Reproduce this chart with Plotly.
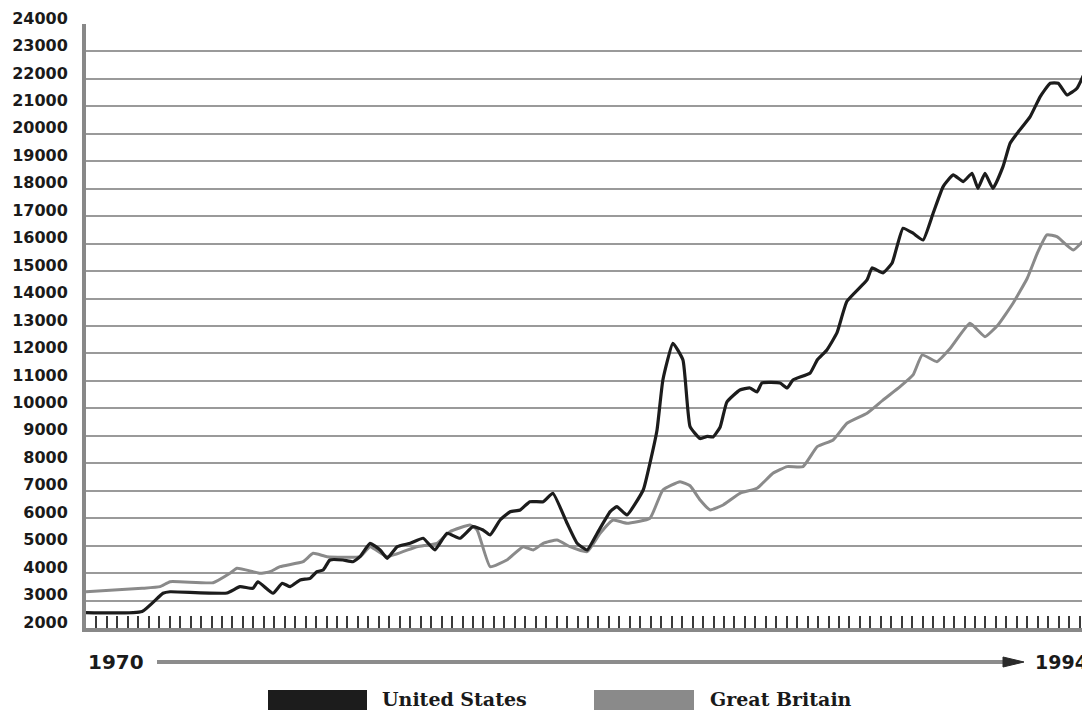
import plotly.graph_objects as go

# ---- data ----
us_years = [1970.0, 1971.34, 1971.84, 1972.01, 1973.37, 1973.68, 1973.99, 1974.11, 1974.47, 1974.69,
            1974.88, 1975.12, 1975.36, 1975.52, 1975.67, 1975.83, 1976.14, 1976.38, 1976.55, 1976.79,
            1977.03, 1977.20, 1977.44, 1977.75, 1978.06, 1978.34, 1978.63, 1978.94, 1979.25, 1979.49,
            1979.66, 1979.90, 1980.14, 1980.38, 1980.61, 1980.93, 1981.16, 1981.50, 1981.74, 1981.98,
            1982.22, 1982.53, 1982.69, 1982.93, 1983.32, 1983.48, 1983.65, 1983.79, 1984.03, 1984.27,
            1984.44, 1984.68, 1984.85, 1984.99, 1985.16, 1985.32, 1985.63, 1985.87, 1986.04, 1986.16,
            1986.59, 1986.76, 1986.90, 1987.31, 1987.48, 1987.71, 1987.95, 1988.19, 1988.67, 1988.79,
            1989.05, 1989.27, 1989.53, 1989.77, 1990.01, 1990.25, 1990.49, 1990.73, 1990.97, 1991.18,
            1991.32, 1991.49, 1991.68, 1991.92, 1992.09, 1992.26, 1992.57, 1992.81, 1993.05, 1993.24,
            1993.45, 1993.69, 1993.83, 1994.0]
us_values = [2560, 2600, 3265, 3320, 3275, 3505, 3445, 3685, 3265, 3630,
             3505, 3750, 3810, 4050, 4113, 4477, 4477, 4415, 4598, 5085,
             4842, 4539, 4962, 5085, 5268, 4842, 5450, 5268, 5690, 5570,
             5388, 5934, 6237, 6300, 6600, 6600, 6907, 5814, 5085, 4842,
             5450, 6237, 6420, 6117, 7027, 8000, 9213, 11035, 12372, 11763,
             9333, 8900, 8980, 8960, 9322, 10233, 10670, 10743, 10597, 10925,
             10925, 10743, 11035, 11290, 11763, 12127, 12746, 13900, 14678, 15115,
             14933, 15297, 16561, 16379, 16135, 17107, 18077, 18503, 18259, 18564,
             18016, 18564, 18016, 18806, 19657, 20021, 20628, 21357, 21843, 21843,
             21417, 21661, 22086, 22630]

gb_years = [1970.0, 1971.34, 1971.77, 1972.01, 1973.04, 1973.44, 1973.61, 1973.99, 1974.16, 1974.40,
            1974.64, 1975.19, 1975.43, 1975.76, 1976.55, 1976.79, 1977.20, 1977.91, 1978.39, 1978.70,
            1979.18, 1979.35, 1979.66, 1980.06, 1980.45, 1980.69, 1980.93, 1981.26, 1981.57, 1981.98,
            1982.29, 1982.60, 1982.93, 1983.48, 1983.79, 1984.20, 1984.44, 1984.68, 1984.92, 1985.23,
            1985.63, 1986.04, 1986.42, 1986.76, 1987.14, 1987.48, 1987.86, 1988.19, 1988.67, 1989.05,
            1989.46, 1989.77, 1989.99, 1990.34, 1990.66, 1991.13, 1991.49, 1991.80, 1992.16, 1992.50,
            1992.74, 1992.97, 1993.21, 1993.60, 1994.0]
gb_values = [3323, 3446, 3505, 3687, 3651, 3992, 4175, 4053, 3992, 4053,
             4233, 4415, 4720, 4598, 4598, 4962, 4598, 4962, 5085, 5508,
             5752, 5570, 4233, 4477, 4962, 4842, 5085, 5206, 4962, 4780,
             5450, 5934, 5814, 5996, 7027, 7330, 7180, 6663, 6300, 6481,
             6907, 7089, 7636, 7877, 7877, 8605, 8849, 9457, 9821, 10300,
             10790, 11217, 11946, 11701, 12189, 13100, 12612, 13038, 13829, 14740,
             15650, 16317, 16255, 15770, 16378]

series_names = ["United States", "Great Britain"]
series_colors = ["#1c1c1c", "#8a8a8a"]
y_ticks = list(range(2000, 24001, 1000))
start_label, end_label = "1970", "1994"

# page offset (default body margin) compensated so the plot sits where the reference has it
OFF = 8
W, H = 1090 - OFF, 710 - OFF
PLOT_L, PLOT_T, PLOT_R, PLOT_B = 86, 24, 1090, 628  # window pixels
L, T = PLOT_L - OFF, PLOT_T - OFF
R = (1090 - OFF) - (PLOT_R - OFF)
B = (710 - OFF) - (PLOT_B - OFF)
PW, PH = PLOT_R - PLOT_L, PLOT_B - PLOT_T


def px_x(p):
    return (p - PLOT_L) / PW


def px_y(p):
    return (PLOT_B - p) / PH


fig = go.Figure()
fig.add_trace(go.Scatter(x=gb_years, y=gb_values, mode="lines", name=series_names[1],
                         line=dict(color=series_colors[1], width=3, shape="spline", smoothing=0.4),
                         showlegend=False))
fig.add_trace(go.Scatter(x=us_years, y=us_values, mode="lines", name=series_names[0],
                         line=dict(color=series_colors[0], width=3.2, shape="spline", smoothing=0.4),
                         showlegend=False))

fig.update_layout(
    width=W, height=H,
    margin=dict(l=L, r=R, t=T, b=B, pad=0),
    paper_bgcolor="white", plot_bgcolor="white",
    showlegend=False,
    xaxis=dict(range=[1970, 1994], showgrid=False, zeroline=False,
               showline=True, linecolor="#888888", linewidth=4,
               ticks="inside", tick0=1970, dtick=0.25, ticklen=12, tickwidth=2,
               tickcolor="#3a3a3a", showticklabels=False),
    yaxis=dict(range=[2000, 24000], tickvals=y_ticks, ticktext=[str(v) for v in y_ticks],
               showgrid=True, gridcolor="#9a9a9a", gridwidth=2, zeroline=False,
               showline=True, linecolor="#888888", linewidth=4, ticks="",
               ticklabelstandoff=11, ticklabelshift=-6,
               tickfont=dict(family="DejaVu Sans", size=16, color="#1a1a1a", weight="bold")),
)

# timeline arrow below the axis
arrow_y = px_y(662)
fig.add_shape(type="line", xref="paper", yref="paper", x0=px_x(157), x1=px_x(1006),
              y0=arrow_y, y1=arrow_y, line=dict(color="#8c8c8c", width=4))
fig.add_shape(type="path", xref="paper", yref="paper",
              path=f"M {px_x(1003)} {px_y(657)} L {px_x(1024)} {px_y(662)} L {px_x(1003)} {px_y(667)} Z",
              fillcolor="#2a2a2a", line=dict(color="#2a2a2a", width=1))
fig.add_annotation(x=px_x(116), y=arrow_y, xref="paper", yref="paper", text=start_label,
                   showarrow=False, xanchor="center", yanchor="middle",
                   font=dict(family="DejaVu Sans", size=20, color="#1a1a1a", weight="bold"))
fig.add_annotation(x=px_x(1033), y=arrow_y, xref="paper", yref="paper", text=end_label,
                   showarrow=False, xanchor="left", yanchor="middle",
                   font=dict(family="DejaVu Sans", size=19, color="#1a1a1a", weight="bold"))

# legend (manual, thick bars)
legend_items = [(268, 367, 380), (594, 694, 708)]
for (bx0, bx1, tx), name, col in zip(legend_items, series_names, series_colors):
    fig.add_shape(type="rect", xref="paper", yref="paper", x0=px_x(bx0), x1=px_x(bx1),
                  y0=px_y(690), y1=px_y(714), fillcolor=col, line=dict(width=0))
    fig.add_annotation(x=px_x(tx), y=px_y(699), xref="paper", yref="paper", text=name,
                       showarrow=False, xanchor="left", yanchor="middle",
                       font=dict(family="DejaVu Serif", size=19, color="#1a1a1a", weight="bold"))

fig.write_html("out.html")
